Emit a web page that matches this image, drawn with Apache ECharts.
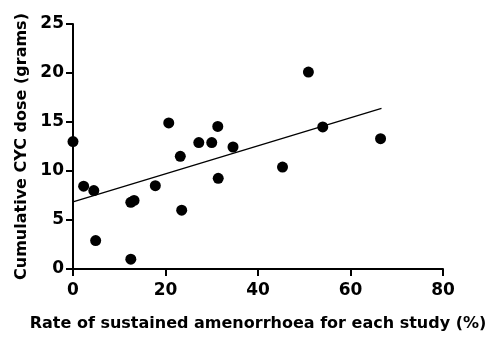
<!DOCTYPE html>
<html>
<head>
<meta charset="utf-8">
<script src="https://cdn.jsdelivr.net/npm/echarts@6/dist/echarts.min.js"></script>
<style>
html, body { margin: 0; padding: 0; background: #fff; }
#chart { width: 497px; height: 342px; }
</style>
</head>
<body>
<div id="chart"></div>
<script>
// rate of sustained amenorrhoea (%) per study
var rate = [0, 2.3, 4.5, 4.9, 12.5, 13.2, 12.5, 17.8, 20.7, 23.2, 23.5, 27.2, 30.0, 31.3, 31.4, 34.6, 45.3, 50.9, 54.0, 66.5];
// cumulative CYC dose (grams)
var dose = [13.0, 8.45, 8.0, 2.9, 6.8, 7.0, 1.0, 8.5, 14.9, 11.5, 6.0, 12.9, 12.9, 14.55, 9.25, 12.45, 10.4, 20.1, 14.5, 13.3];
// fitted line end points
var fitX = [0, 66.7];
var fitY = [6.84, 16.4];

var pts = rate.map(function (r, i) { return [r, dose[i]]; });
var fit = fitX.map(function (x, i) { return [x, fitY[i]]; });

var myChart = echarts.init(document.getElementById('chart'));
var nameFont = { color: '#000', fontFamily: 'DejaVu Sans', fontWeight: 'bold', fontSize: 16 };
var tickFont = { color: '#000', fontFamily: 'DejaVu Sans', fontWeight: 'bold', fontSize: 17 };

myChart.setOption({
    animation: false,
    grid: { left: 73, right: 54, top: 24, bottom: 73 },
    xAxis: {
        type: 'value', min: 0, max: 80, interval: 20,
        name: 'Rate of sustained amenorrhoea for each study (%)',
        nameLocation: 'middle', nameGap: 47,
        nameTextStyle: nameFont,
        axisLine: { show: true, lineStyle: { color: '#000', width: 2 } },
        axisTick: { show: true, length: 7, lineStyle: { color: '#000', width: 2 } },
        axisLabel: Object.assign({ margin: 13 }, tickFont),
        splitLine: { show: false }
    },
    yAxis: {
        type: 'value', min: 0, max: 25, interval: 5,
        name: 'Cumulative CYC dose (grams)',
        nameLocation: 'middle', nameGap: 42,
        nameTextStyle: nameFont,
        axisLine: { show: true, lineStyle: { color: '#000', width: 2 } },
        axisTick: { show: true, length: 7, lineStyle: { color: '#000', width: 2 } },
        axisLabel: Object.assign({ margin: 9 }, tickFont),
        splitLine: { show: false }
    },
    series: [
        {
            type: 'line', data: fit, symbol: 'none', silent: true,
            lineStyle: { color: '#000', width: 1.3 }
        },
        {
            type: 'scatter', data: pts, symbolSize: 11,
            itemStyle: { color: '#000', opacity: 1 }
        }
    ]
});
</script>
</body>
</html>
